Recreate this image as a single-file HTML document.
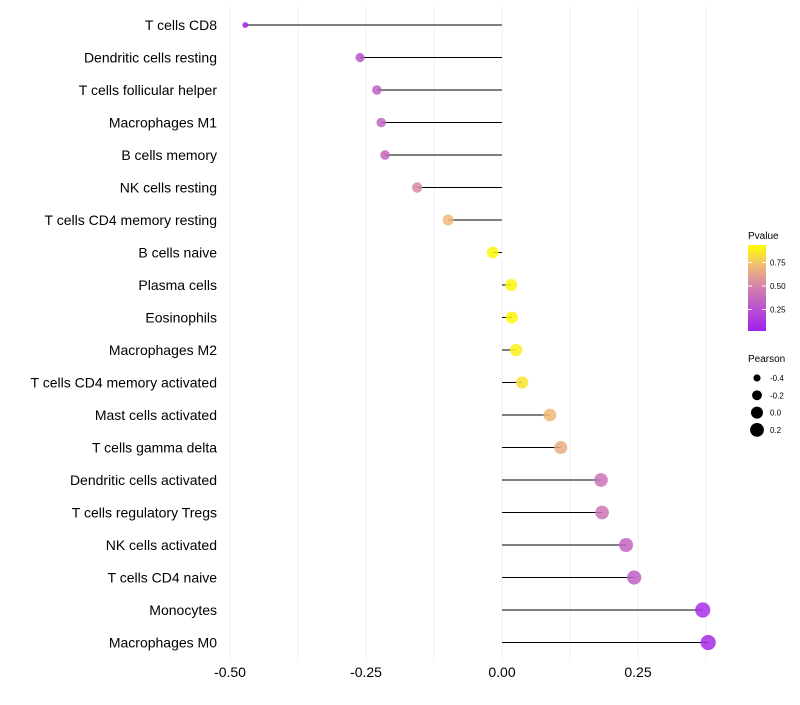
<!DOCTYPE html>
<html><head><meta charset="utf-8"><style>
body{margin:0;background:#fff;}
svg text{font-family:"Liberation Sans",sans-serif;}
</style></head><body>
<svg id="chart" width="800" height="700">
<defs><linearGradient id="pg" x1="0" y1="1" x2="0" y2="0">
<stop offset="0" stop-color="#a020f0"/><stop offset="0.5" stop-color="#d080b0"/><stop offset="0.75" stop-color="#f0b878"/><stop offset="1" stop-color="#ffff00"/></linearGradient></defs>
<g id="grid"></g><g id="marks"></g><g id="ylabels"></g><g id="xticks"></g>
<g>
<text x="748" y="239" font-size="10">Pvalue</text>
<rect x="748" y="245" width="18" height="86" fill="url(#pg)"/>
<g id="pleg"></g></g>
<g>
<text x="748" y="362" font-size="10">Pearson</text>
<g id="sleg"></g></g>
</svg>
<script>
const categories=["T cells CD8","Dendritic cells resting","T cells follicular helper","Macrophages M1","B cells memory","NK cells resting","T cells CD4 memory resting","B cells naive","Plasma cells","Eosinophils","Macrophages M2","T cells CD4 memory activated","Mast cells activated","T cells gamma delta","Dendritic cells activated","T cells regulatory  Tregs ","NK cells activated","T cells CD4 naive","Monocytes","Macrophages M0"];
const pearson=[-0.472,-0.261,-0.230,-0.222,-0.215,-0.156,-0.099,-0.017,0.017,0.018,0.026,0.037,0.088,0.108,0.182,0.184,0.228,0.243,0.369,0.379];
const pvalue=[0.02,0.28,0.33,0.35,0.36,0.55,0.75,0.97,0.97,0.97,0.95,0.9,0.75,0.7,0.45,0.45,0.35,0.33,0.08,0.06];
const xTicks=[-0.5,-0.25,0,0.25];
const xTickLabels=["-0.50","-0.25","0.00","0.25"];
const pTicks=[0.25,0.5,0.75];
const sizeTicks=[-0.4,-0.2,0.0,0.2];
const NS="http://www.w3.org/2000/svg";
const x=v=>502+v*544;
const y=i=>25+i*32.5;
const r=v=>Math.sqrt(Math.max(36+58*v,3));
function lerp(a,b,t){return a.map((c,i)=>Math.round(c+(b[i]-c)*t));}
function col(p){const st=[[0,[160,32,240]],[0.5,[208,128,176]],[0.75,[240,184,120]],[1,[255,255,0]]];
for(let k=1;k<st.length;k++){if(p<=st[k][0]){const t=(p-st[k-1][0])/(st[k][0]-st[k-1][0]);return "rgb("+lerp(st[k-1][1],st[k][1],t).join(",")+")";}}return "rgb(255,255,0)";}
function mk(t,a,p){const e=document.createElementNS(NS,t);for(const k in a)e.setAttribute(k,a[k]);p.appendChild(e);return e;}
const grid=document.getElementById('grid');
for(let v=-0.5;v<=0.376;v+=0.125){const l=mk('line',{x1:x(v),x2:x(v),y1:5,y2:660,stroke:'#f0f0f0','stroke-width':1},grid);

}
const marks=document.getElementById('marks'),yl=document.getElementById('ylabels');
categories.forEach((c,i)=>{
const ln=mk('line',{x1:x(0),x2:x(pearson[i]),y1:y(i),y2:y(i),stroke:'#000','stroke-width':1},marks);


const d=mk('circle',{cx:x(pearson[i]),cy:y(i),r:r(pearson[i]),fill:col(pvalue[i]),'fill-opacity':0.85},marks);


const t=mk('text',{x:217,y:y(i)+5,'font-size':14,'text-anchor':'end',fill:'#000'},yl);t.textContent=c;

});
const xt=document.getElementById('xticks');
xTicks.forEach((v,i)=>{const t=mk('text',{x:x(v),y:677,'font-size':14,'text-anchor':'middle',fill:'#000'},xt);t.textContent=xTickLabels[i];

});
const pl=document.getElementById('pleg');
pTicks.forEach(p=>{const yy=333-p*94;mk('line',{x1:748,x2:752,y1:yy,y2:yy,stroke:'#fff'},pl);mk('line',{x1:762,x2:766,y1:yy,y2:yy,stroke:'#fff'},pl);
const t=mk('text',{x:770,y:yy+3,'font-size':8},pl);t.textContent=p.toFixed(2);

});
const sl=document.getElementById('sleg');
sizeTicks.forEach((v,i)=>{const yy=378+i*17.3;const c=mk('circle',{cx:757,cy:yy,r:r(v),fill:'#000'},sl);


const t=mk('text',{x:770,y:yy+3,'font-size':8},sl);t.textContent=v.toFixed(1);

});
</script>
</body></html>
